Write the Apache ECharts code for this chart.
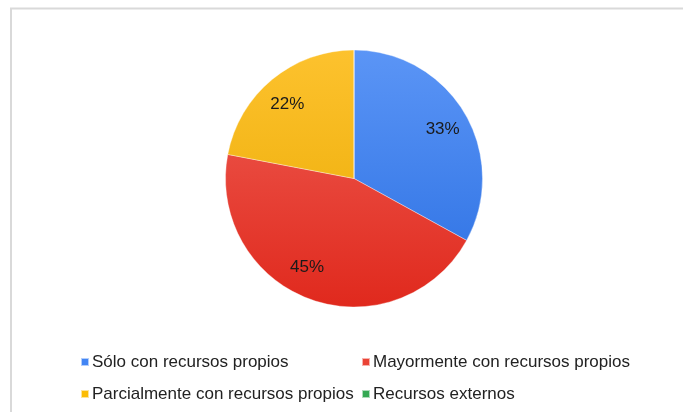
<!DOCTYPE html>
<html>
<head>
<meta charset="utf-8">
<script src="https://cdn.jsdelivr.net/npm/echarts@6/dist/echarts.min.js"></script>
<style>
html,body{margin:0;padding:0;background:#fff;}
#chart{width:683px;height:412px;}
</style>
</head>
<body>
<div id="chart"></div>
<script>
const categories = ['Sólo con recursos propios', 'Mayormente con recursos propios', 'Parcialmente con recursos propios', 'Recursos externos'];
const values = [33, 45, 22, 0];
const legendColors = ['#4285f4', '#ea4335', '#fbbc04', '#34a853'];
const topColors = ['#5b95f6', '#ef6056', '#fdc22e', '#4cb86a'];
const bottomColors = ['#2a6fe2', '#e0291d', '#e9a900', '#2a9047'];
const labelOffsets = [[0, 3], [-12, -8], [-1, 5], [0, 0]];

const FONT = '"Liberation Sans", Arial, sans-serif';
const cx = 354, cy = 178.5, R = 128.5;

function grad(i) {
  return {
    type: 'linear', global: true,
    x: 0, y: cy - R, x2: 0, y2: cy + R,
    colorStops: [{offset: 0, color: topColors[i]}, {offset: 1, color: bottomColors[i]}]
  };
}

const pieData = categories.map((n, i) => ({
  name: n, value: values[i], itemStyle: {color: grad(i)}
}));
const labelData = categories.map((n, i) => ({
  name: n, value: values[i], label: {show: values[i] > 0, offset: labelOffsets[i]}
}));

const legendPos = [[80, 352], [361, 352], [80, 384], [361, 384]];
const legends = categories.map((n, i) => ({
  data: [{name: n, itemStyle: {color: legendColors[i]}}],
  left: legendPos[i][0], top: legendPos[i][1],
  orient: 'horizontal', icon: 'rect', itemWidth: 8, itemHeight: 8,
  selectedMode: false, padding: 0,
  textStyle: {fontFamily: FONT, fontSize: 17, color: '#222', lineHeight: 20, padding: [0, 0, 0, -2]}
}));

const chart = echarts.init(document.getElementById('chart'), null, {renderer: 'canvas'});
chart.setOption({
  animation: false,
  backgroundColor: '#fff',
  legend: legends,
  graphic: [{
    type: 'rect', silent: true, z: -1,
    shape: {x: 11, y: 8.5, width: 700, height: 420},
    style: {fill: 'none', stroke: '#d9d9d9', lineWidth: 2}
  }],
  series: [{
    type: 'pie', name: 'main', center: [cx, cy], radius: [0, R],
    startAngle: 90, clockwise: true, percentPrecision: 0,
    avoidLabelOverlap: false, silent: true,
    label: {show: false}, labelLine: {show: false},
    itemStyle: {borderColor: 'rgba(255,255,255,0.6)', borderWidth: 0.6},
    data: pieData
  }, {
    type: 'pie', name: 'labels', center: [cx, cy], radius: [2 * 100 - R, R],
    startAngle: 90, clockwise: true, percentPrecision: 0,
    avoidLabelOverlap: false, silent: true, legendHoverLink: false,
    itemStyle: {color: 'rgba(0,0,0,0)'},
    label: {show: true, position: 'inside', formatter: '{d}%', fontFamily: FONT, fontSize: 17, color: '#1a1a1a'},
    labelLine: {show: false},
    data: labelData
  }]
});
</script>
</body>
</html>
